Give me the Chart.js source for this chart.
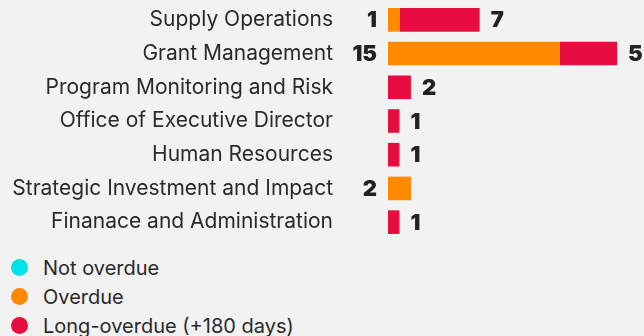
<!DOCTYPE html>
<html>
<head>
<meta charset="utf-8">
<script src="https://cdn.jsdelivr.net/npm/chart.js@4/dist/chart.umd.min.js"></script>
<style>
  html, body { margin: 0; padding: 0; background: #f2f2f2; }
  #wrap { width: 644px; height: 245px; position: relative; }
  #legend { margin: 8px 0 0 11px; font-family: Inter, sans-serif; font-size: 20px; color: #2a2a2a; }
  #legend .item { display: flex; align-items: center; height: 29px; }
  #legend .dot { width: 17px; height: 17px; border-radius: 50%; margin-right: 15px; }
</style>
</head>
<body>
<div id="wrap"><canvas id="chart"></canvas></div>
<div id="legend"></div>
<script>
// Outstanding items per unit, split by age
const units = [
  'Supply Operations',
  'Grant Management',
  'Program Monitoring and Risk',
  'Office of Executive Director',
  'Human Resources',
  'Strategic Investment and Impact',
  'Finanace and Administration'
];
const notOverdue  = [0, 0, 0, 0, 0, 0, 0];
const overdue     = [1, 15, 0, 0, 0, 2, 0];
const longOverdue = [7, 5, 2, 1, 1, 0, 1];

const seriesNames  = ['Not overdue', 'Overdue', 'Long-overdue (+180 days)'];
const seriesColors = ['#00e3e6', '#ff8a00', '#e80d40'];

// value labels: overdue to the left of the bar, long-overdue to the right
const valueLabels = {
  id: 'valueLabels',
  afterDatasetsDraw(chart) {
    const { ctx } = chart;
    ctx.save();
    ctx.font = '900 22px Inter, sans-serif';
    ctx.fillStyle = '#222';
    ctx.textBaseline = 'middle';
    const x0 = chart.scales.x.getPixelForValue(0);
    units.forEach((u, i) => {
      const y = chart.scales.y.getPixelForValue(i);
      if (overdue[i] > 0) {
        ctx.textAlign = 'right';
        ctx.fillText(overdue[i], x0 - 11, y + 1);
      }
      if (longOverdue[i] > 0) {
        const end = chart.scales.x.getPixelForValue(notOverdue[i] + overdue[i] + longOverdue[i]);
        ctx.textAlign = 'left';
        ctx.fillText(longOverdue[i], end + 11, y + 1);
      }
    });
    ctx.restore();
  }
};

const chart = new Chart(document.getElementById('chart'), {
  type: 'bar',
  data: {
    labels: units,
    datasets: [
      { label: seriesNames[0], data: notOverdue,  backgroundColor: seriesColors[0] },
      { label: seriesNames[1], data: overdue,     backgroundColor: seriesColors[1] },
      { label: seriesNames[2], data: longOverdue, backgroundColor: seriesColors[2] }
    ]
  },
  options: {
    indexAxis: 'y',
    responsive: true, maintainAspectRatio: false,
    animation: false,
    layout: { padding: { top: 3, bottom: 6, right: 4 } },
    datasets: { bar: { categoryPercentage: 1, barPercentage: 0.7, borderWidth: 0 } },
    plugins: { legend: { display: false }, tooltip: { enabled: false } },
    scales: {
      x: { stacked: true, min: 0, max: 22, display: false },
      y: {
        stacked: true,
        grid: { display: false, drawTicks: false },
        border: { display: false },
        ticks: { padding: 55, color: '#2a2a2a', font: { family: 'Inter', size: 21 } },
        afterFit(scale) {
          // fixed gutter for labels; tick padding shouldn't eat vertical room
          scale.width = 388;
          scale.paddingTop = 0;
          scale.paddingBottom = 0;
        }
      }
    }
  },
  plugins: [valueLabels]
});

// legend, one entry per row
document.getElementById('legend').innerHTML = seriesNames.map((n, i) =>
  `<div class="item"><span class="dot" style="background:${seriesColors[i]}"></span>${n}</div>`
).join('');
</script>
</body>
</html>
